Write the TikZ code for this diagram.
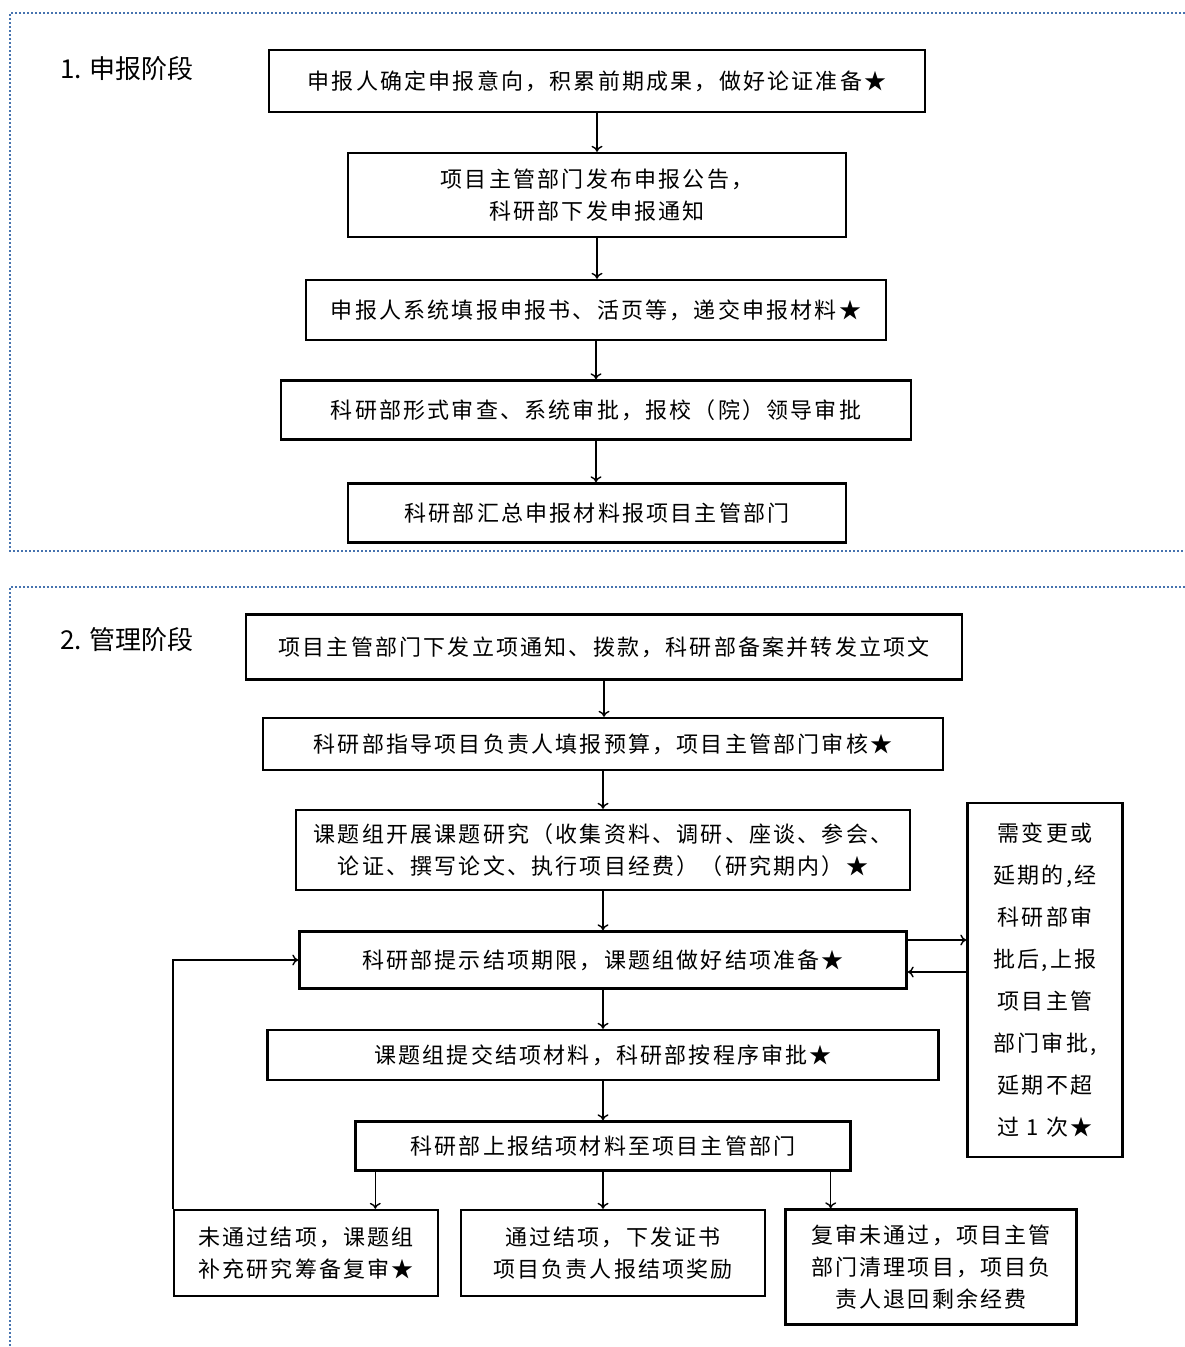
\documentclass[tikz,border=0pt]{standalone}
\usepackage{fontspec}
\usetikzlibrary{arrows.meta}
\setmainfont{Noto Sans CJK SC}
\newfontfamily\boxfont[LetterSpace=10]{Noto Sans CJK SC}
\newfontfamily\stagefont{Noto Sans CJK SC}
\definecolor{frameblue}{RGB}{70,115,175}
\begin{document}
\begin{tikzpicture}[x=1pt,y=-1pt,
  box/.style={draw, line width=2.4pt, align=center, inner sep=0pt,
    font=\boxfont\fontsize{22}{32}\selectfont},
  sidebox/.style={box, font=\boxfont\fontsize{22}{42}\selectfont},
  link/.style={-{To[length=6pt,width=11pt]}, line width=1.4pt},
  frame/.style={draw=frameblue, line width=2pt, dash pattern=on 2pt off 2pt},
  stage/.style={anchor=west, font=\stagefont\fontsize{26}{28}\selectfont}]
\useasboundingbox (0,0) rectangle (1185,1347);
% stage frames
\draw[frame] (1185,13)--(10,13)--(10,551)--(1185,551);
\draw[frame] (1185,587)--(10,587)--(10,1347);
\node[stage] (stage1) at (57,69) {1. 申报阶段};
\node[stage] (stage2) at (57,640) {2. 管理阶段};
% stage 1
\node[box, minimum width=656, minimum height=62] (b1) at (597,81)
  {申报人确定申报意向，积累前期成果，做好论证准备★};
\node[box, minimum width=498, minimum height=84] (b2) at (597,195)
  {项目主管部门发布申报公告，\\科研部下发申报通知};
\node[box, minimum width=580, minimum height=60] (b3) at (596,310)
  {申报人系统填报申报书、活页等，递交申报材料★};
\node[box, minimum width=630, minimum height=59] (b4) at (596,410)
  {科研部形式审查、系统审批，报校（院）领导审批};
\node[box, minimum width=498, minimum height=59] (b5) at (597,513)
  {科研部汇总申报材料报项目主管部门};
\draw[link] (b1.south)--(b1.south |- b2.north);
\draw[link] (b2.south)--(b2.south |- b3.north);
\draw[link] (b3.south)--(b3.south |- b4.north);
\draw[link] (b4.south)--(b4.south |- b5.north);
% stage 2
\node[box, minimum width=716, minimum height=65] (c1) at (604,647)
  {项目主管部门下发立项通知、拨款，科研部备案并转发立项文};
\node[box, minimum width=680, minimum height=52] (c2) at (603,744)
  {科研部指导项目负责人填报预算，项目主管部门审核★};
\node[box, minimum width=614, minimum height=80] (c3) at (603,850)
  {课题组开展课题研究（收集资料、调研、座谈、参会、\\论证、撰写论文、执行项目经费）（研究期内）★};
\node[box, minimum width=607, minimum height=57] (c4) at (603,960)
  {科研部提示结项期限，课题组做好结项准备★};
\node[box, minimum width=671, minimum height=50] (c5) at (603,1055)
  {课题组提交结项材料，科研部按程序审批★};
\node[box, minimum width=495, minimum height=49] (c6) at (603,1146)
  {科研部上报结项材料至项目主管部门};
\node[box, minimum width=264, minimum height=86] (d1) at (306,1253)
  {未通过结项，课题组\\补充研究筹备复审★};
\node[box, minimum width=304, minimum height=86] (d2) at (613,1253)
  {通过结项，下发证书\\项目负责人报结项奖励};
\node[box, minimum width=291, minimum height=115] (d3) at (931,1267)
  {复审未通过，项目主管\\部门清理项目，项目负\\责人退回剩余经费};
\node[sidebox, minimum width=155, minimum height=354] (side) at (1045,980)
  {需变更或\\延期的,经\\科研部审\\批后,上报\\项目主管\\部门审批,\\延期不超\\过 1 次★};
\draw[link] (c1.south)--(c1.south |- c2.north);
\draw[link] (c2.south)--(c2.south |- c3.north);
\draw[link] (c3.south)--(c3.south |- c4.north);
\draw[link] (c4.south)--(c4.south |- c5.north);
\draw[link] (c5.south)--(c5.south |- c6.north);
% outcomes
\coordinate (o1) at ([xshift=21pt]c6.south west);
\coordinate (o3) at ([xshift=-21pt]c6.south east);
\draw[link] (o1)--(o1 |- d1.north);
\draw[link] (c6.south)--(c6.south |- d2.north);
\draw[link] (o3)--(o3 |- d3.north);
\draw[link] (d1.north west) |- (c4.west);
% change or extension
\coordinate (e1) at ([yshift=20pt]c4.east);
\coordinate (e2) at ([yshift=-12pt]c4.east);
\draw[link] (e1)--(e1 -| side.west);
\draw[link] (e2 -| side.west)--(e2);
\end{tikzpicture}
\end{document}
